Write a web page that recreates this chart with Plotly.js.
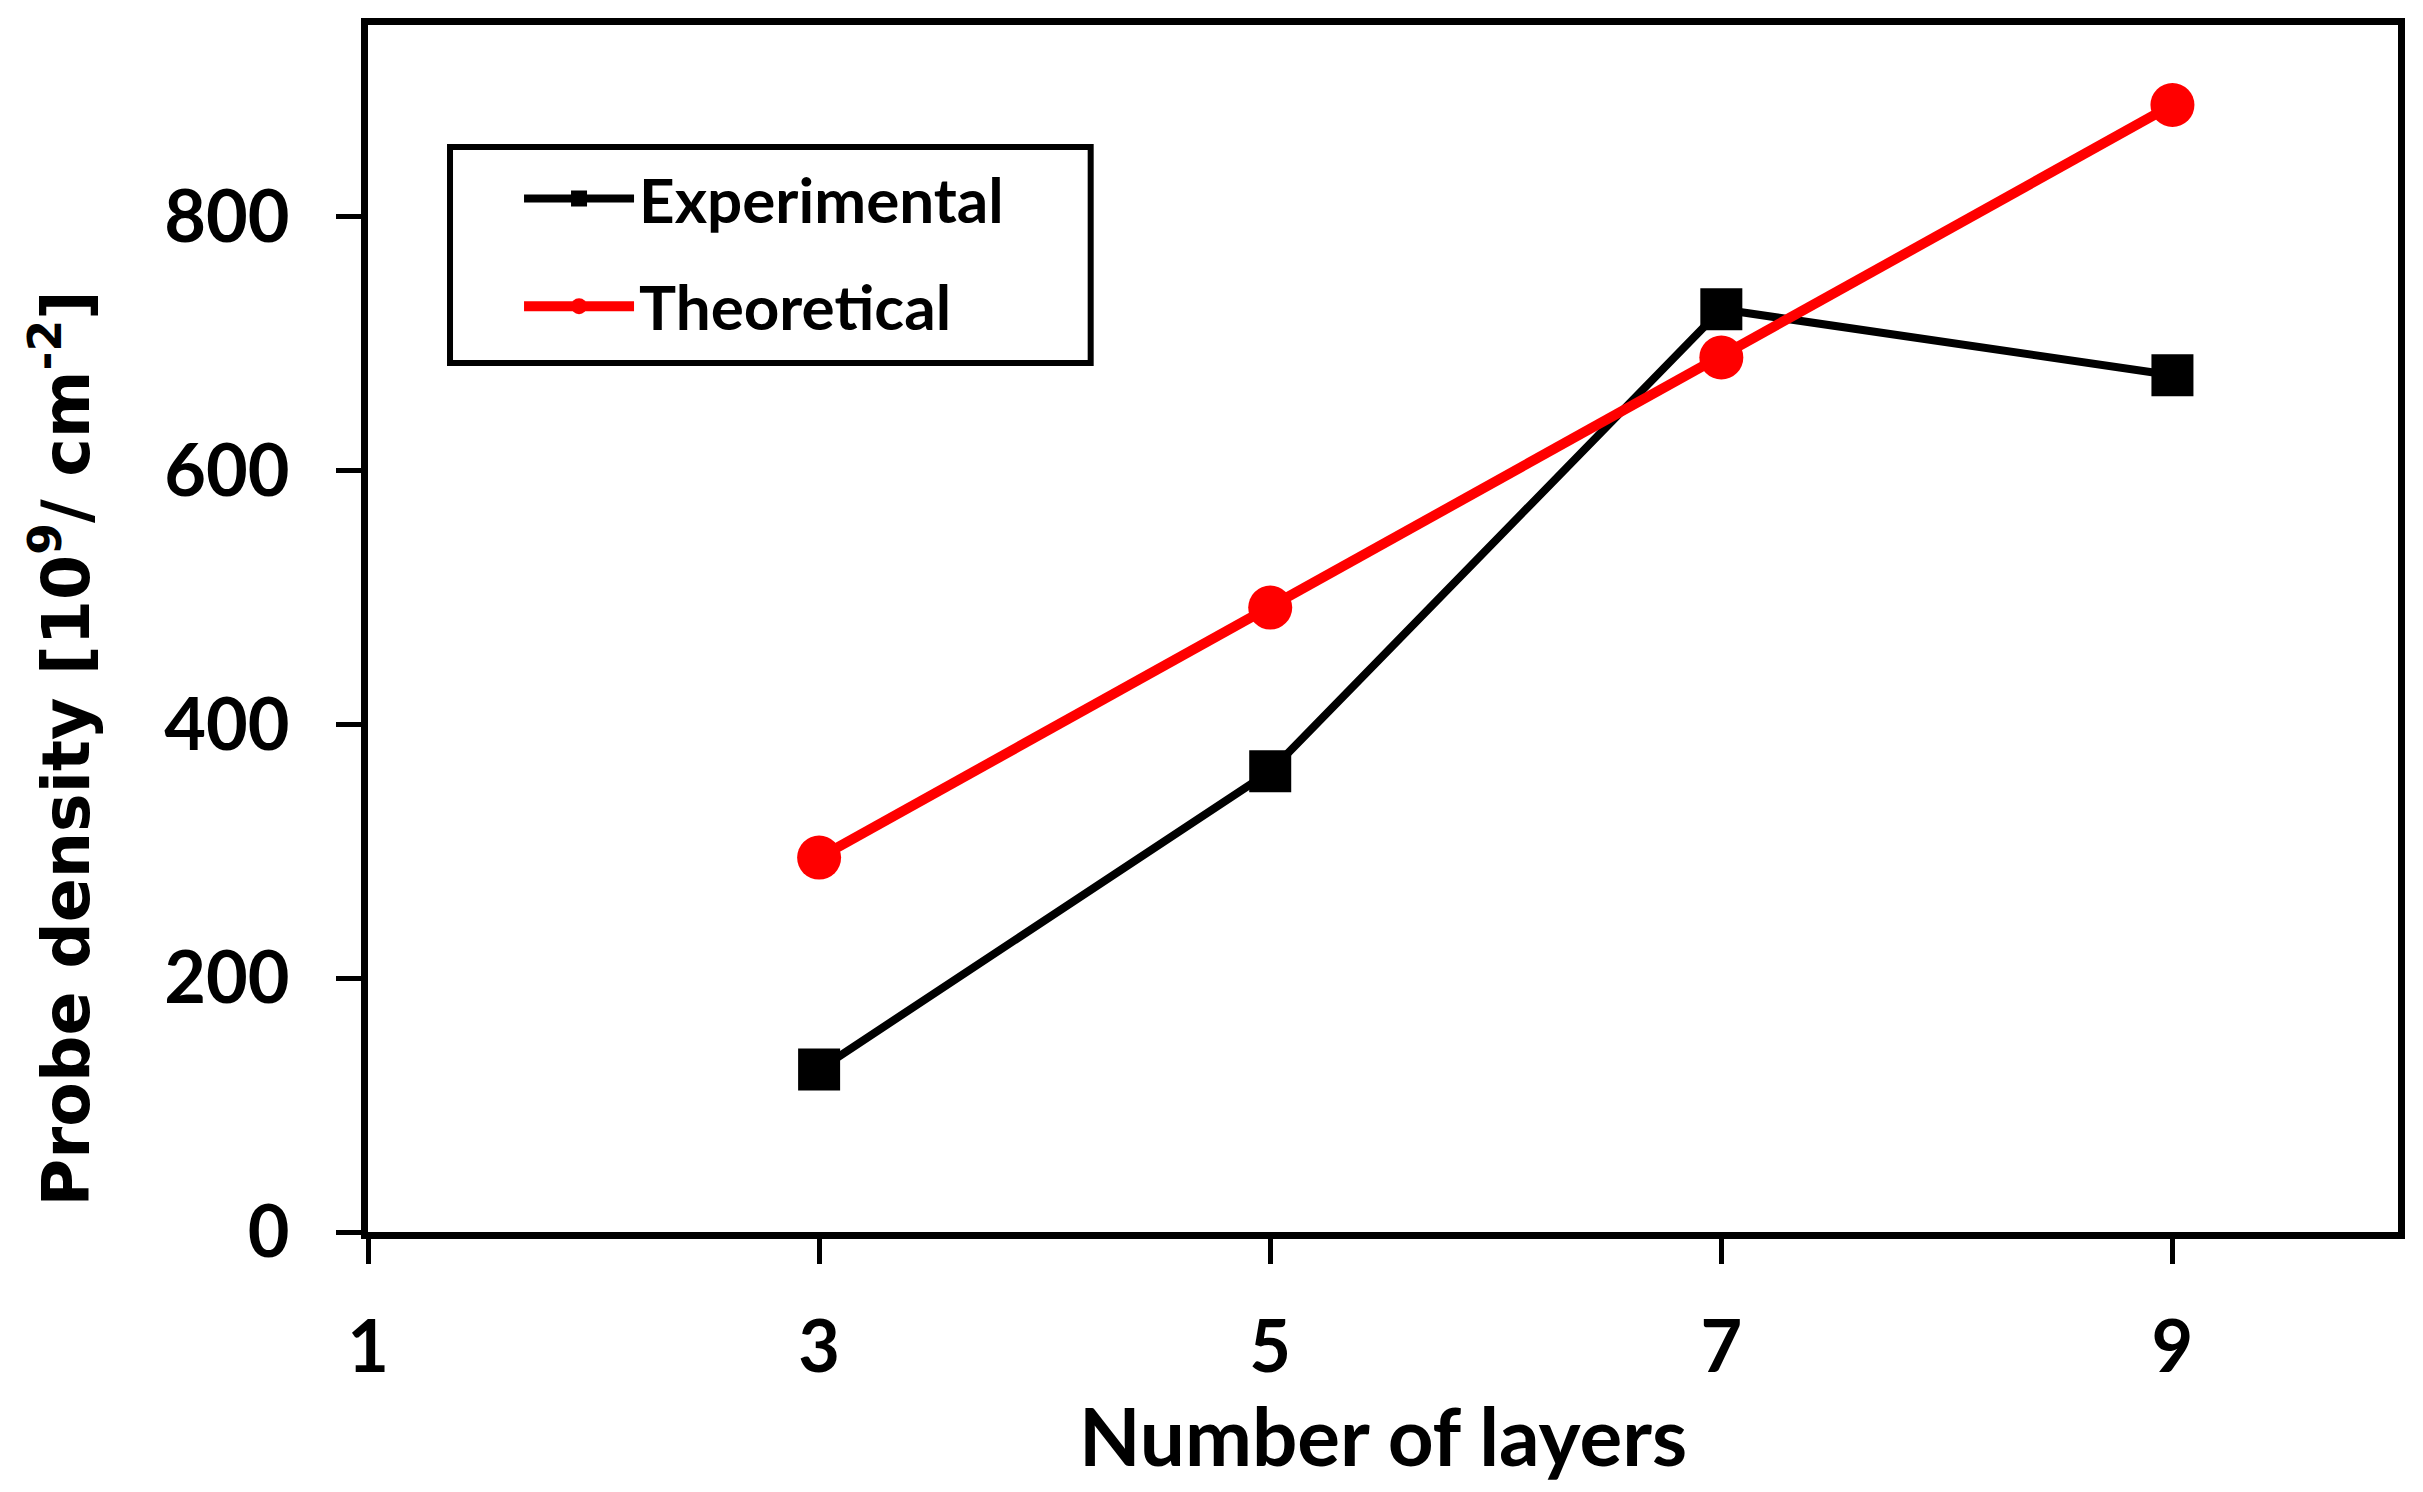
<!DOCTYPE html>
<html>
<head>
<meta charset="utf-8">
<script src="https://cdn.plot.ly/plotly-3.0.1.min.js"></script>
<style>html,body{margin:0;padding:0;background:#fff;}#chart{width:2423px;height:1492px;}</style>
</head>
<body>
<div id="chart"></div>
<script>
const layers = [3, 5, 7, 9];
const experimental = [128, 363, 727, 675];
const theoretical = [295, 492, 689, 888];
const xTicks = [1, 3, 5, 7, 9];
const yTicks = [0, 200, 400, 600, 800];
const yTitle = 'Probe density [10<sup>9</sup>/ cm<sup>-2</sup>]';

const mainFont = 'Lato, "Open Sans", sans-serif';
const tickFont = {family: mainFont, size: 72, color: '#000', weight: 700};

const traces = [
  {x: layers, y: experimental, name: 'Experimental', type: 'scatter', mode: 'lines+markers',
   legendgroup: 'a',
   line: {color: '#000', width: 8}, marker: {symbol: 'square', size: 42, color: '#000'}},
  {x: layers, y: theoretical, name: 'Theoretical', type: 'scatter', mode: 'lines+markers',
   legendgroup: 'b',
   line: {color: '#ff0000', width: 10}, marker: {symbol: 'circle', size: 44, color: '#ff0000'}}
];

const layout = {
  width: 2423, height: 1492,
  margin: {l: 368, r: 25, t: 25, b: 260},
  paper_bgcolor: '#fff', plot_bgcolor: '#fff',
  showlegend: true,
  legend: {
    x: 0.0744, y: 0.895, xanchor: 'left', yanchor: 'top',
    bgcolor: 'rgba(0,0,0,0)', borderwidth: 0,
    font: {family: mainFont, size: 62, color: '#000', weight: 700},
    traceorder: 'grouped', tracegroupgap: 24,
    itemwidth: 110
  },
  shapes: [{
    type: 'rect', xref: 'paper', yref: 'paper', layer: 'below',
    x0: 0.0404, x1: 0.356, y0: 0.72, y1: 0.899,
    line: {color: '#000', width: 6}, fillcolor: '#fff'
  }],
  xaxis: {
    range: [1, 10], tickvals: xTicks, ticktext: xTicks.map(String),
    showgrid: false, zeroline: false,
    showline: true, linecolor: '#000', linewidth: 7, mirror: true,
    ticks: 'outside', ticklen: 25, tickwidth: 5, tickcolor: '#000',
    tickfont: tickFont, ticklabelstandoff: 22,
    title: {text: 'Number of layers', font: {family: mainFont, size: 80, color: '#000', weight: 700}, standoff: 14}
  },
  yaxis: {
    range: [0, 951], tickvals: yTicks, ticktext: yTicks.map(String),
    showgrid: false, zeroline: false,
    showline: true, linecolor: '#000', linewidth: 7, mirror: true,
    ticks: 'outside', ticklen: 25, tickwidth: 5, tickcolor: '#000',
    tickfont: tickFont, ticklabelstandoff: 32
  },
  annotations: [{
    text: yTitle, textangle: -90, showarrow: false,
    xref: 'paper', yref: 'paper', x: -0.151, y: 0.401, xanchor: 'center', yanchor: 'middle',
    font: {family: '"DejaVu Sans", Verdana, sans-serif', size: 65, color: '#000', weight: 700}
  }]
};

Plotly.newPlot('chart', traces, layout, {displayModeBar: false, staticPlot: true});
</script>
</body>
</html>
